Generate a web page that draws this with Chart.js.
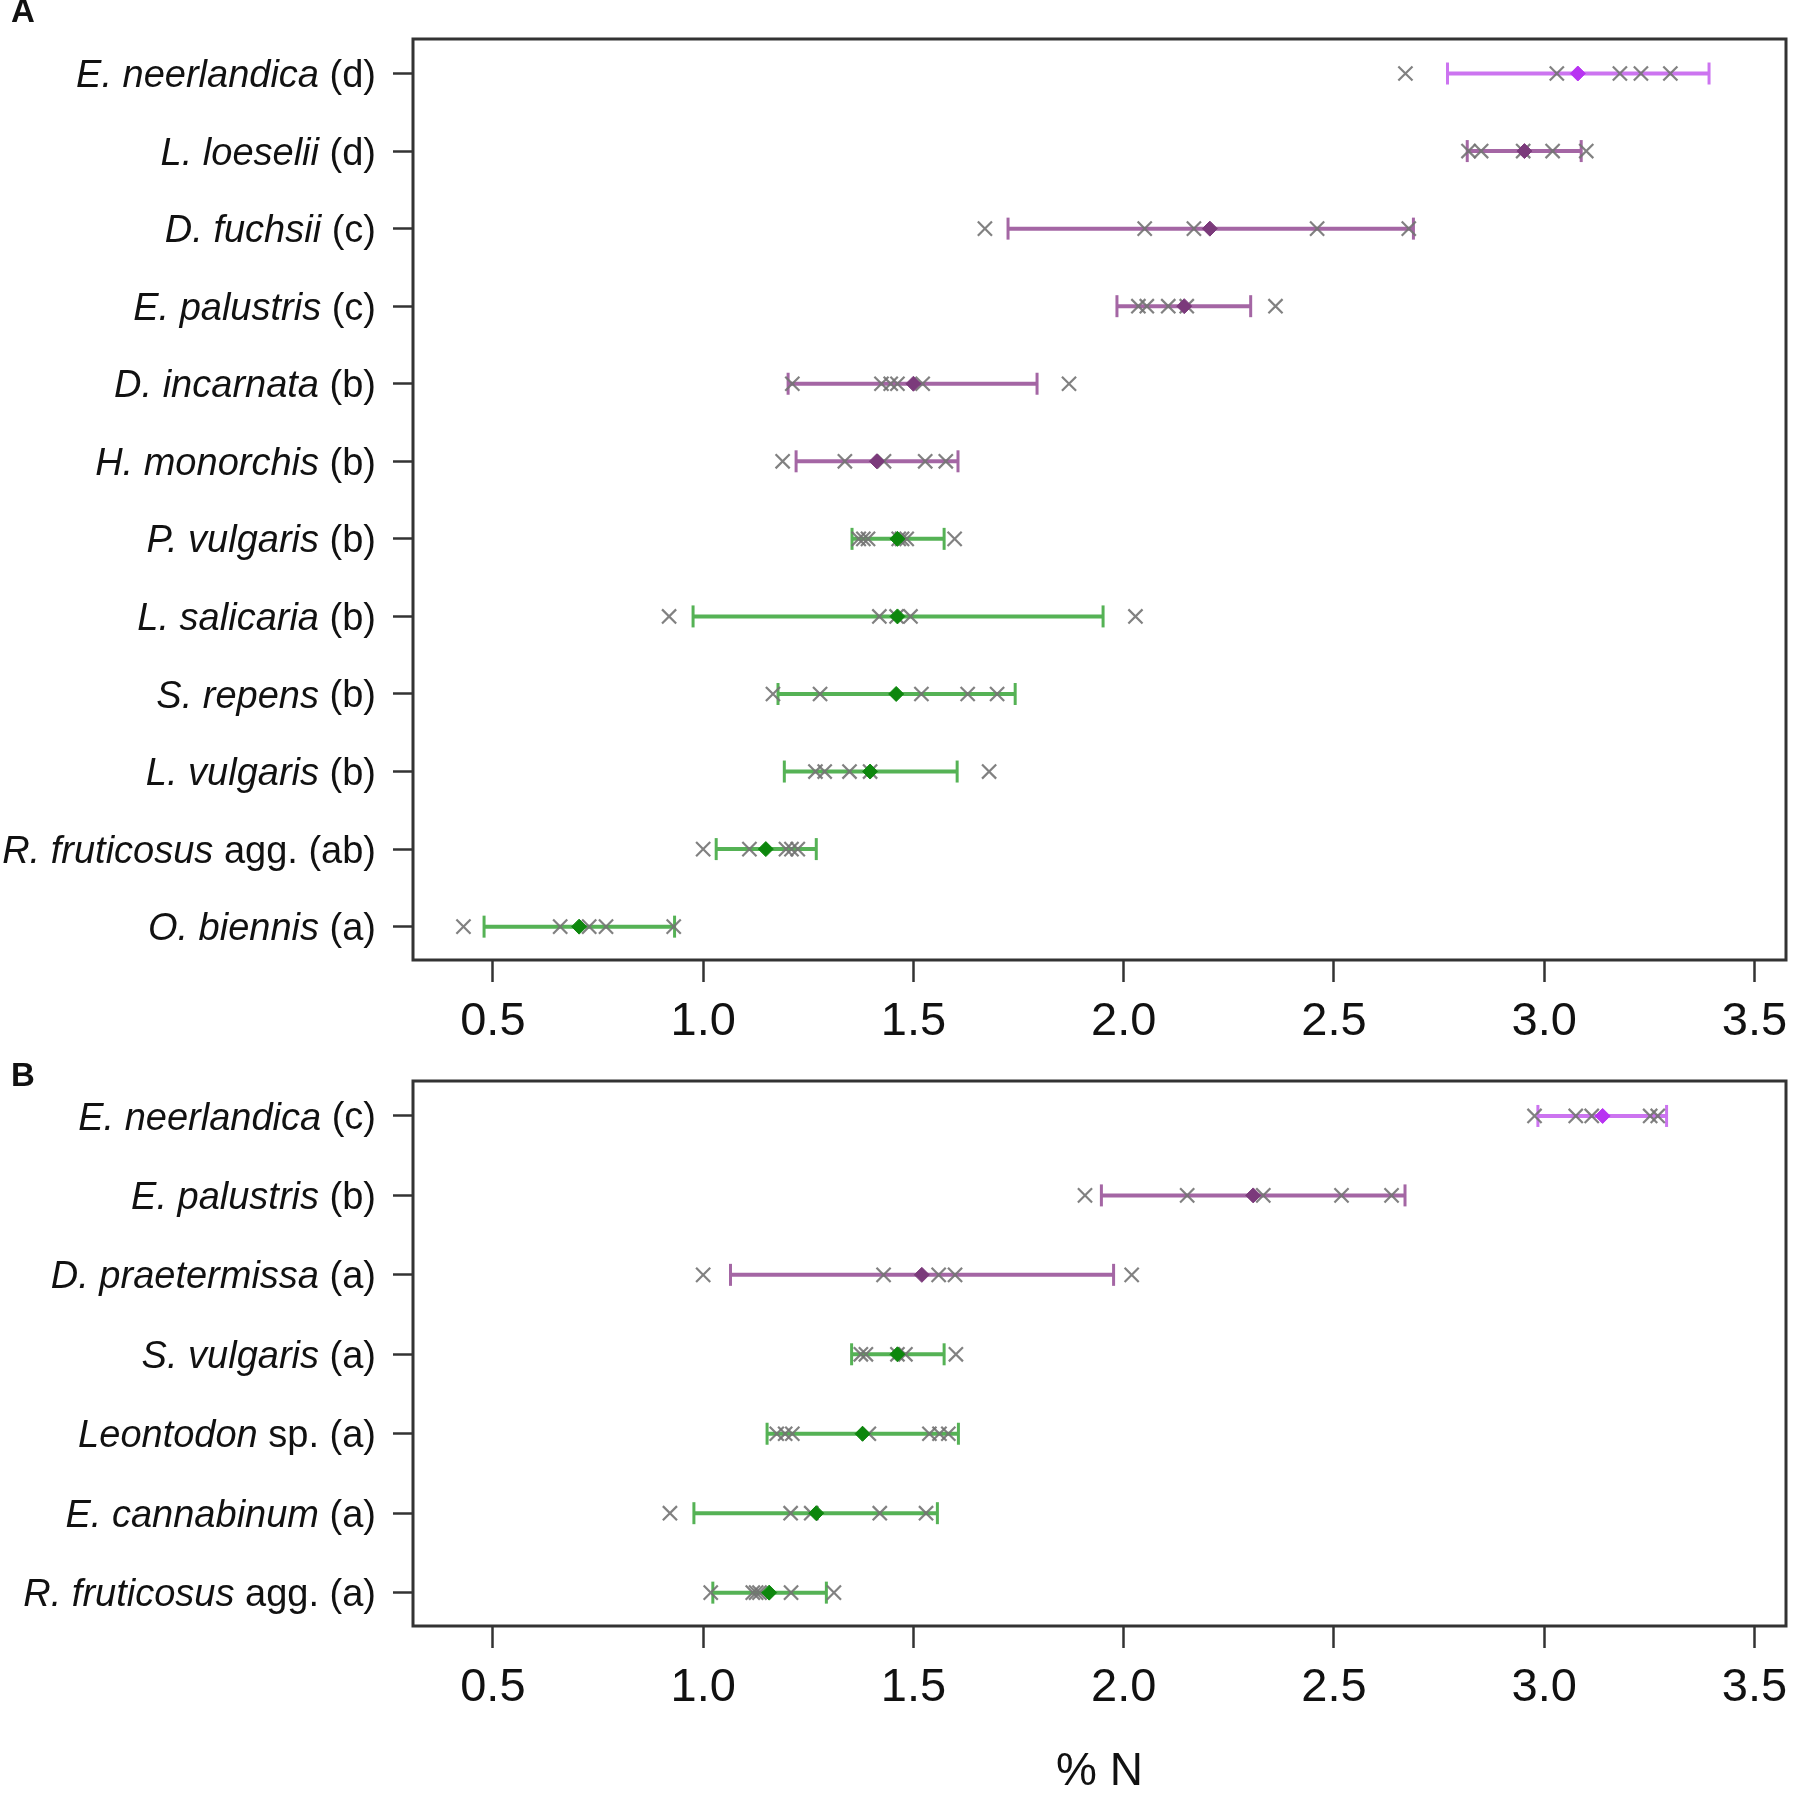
<!DOCTYPE html>
<html>
<head>
<meta charset="utf-8">
<script src="https://cdn.jsdelivr.net/npm/chart.js@4.4.1/dist/chart.umd.min.js"></script>
<style>
  html, body { margin: 0; padding: 0; background: #fff; }
  canvas { display: block; position: absolute; left: 0; }
  #chartA { top: 0; }
  #chartB { top: 1050px; }
</style>
</head>
<body>
<canvas id="chartA" width="1800" height="1050"></canvas>
<canvas id="chartB" width="1800" height="745"></canvas>
<script>
// ---- panel A (top to bottom) ----
const speciesA = ['E. neerlandica', 'L. loeselii', 'D. fuchsii', 'E. palustris', 'D. incarnata', 'H. monorchis',
  'P. vulgaris', 'L. salicaria', 'S. repens', 'L. vulgaris', 'R. fruticosus', 'O. biennis'];
const suffixA = [' (d)', ' (d)', ' (c)', ' (c)', ' (b)', ' (b)', ' (b)', ' (b)', ' (b)', ' (b)', ' agg. (ab)', ' (a)'];
const meanA = [3.08, 2.953, 2.205, 2.144, 1.50, 1.413, 1.462, 1.462, 1.459, 1.397, 1.149, 0.705];
const lowA  = [2.77, 2.817, 1.725, 1.984, 1.202, 1.221, 1.354, 0.976, 1.178, 1.193, 1.031, 0.479];
const highA = [3.392, 3.088, 2.689, 2.302, 1.794, 1.606, 1.573, 1.951, 1.742, 1.604, 1.269, 0.932];
const samplesA = [
  [2.67, 3.03, 3.18, 3.23, 3.30],
  [2.82, 2.85, 2.95, 3.02, 3.10],
  [1.67, 2.05, 2.167, 2.46, 2.678],
  [2.035, 2.055, 2.106, 2.15, 2.361],
  [1.212, 1.424, 1.446, 1.462, 1.522, 1.87],
  [1.189, 1.337, 1.43, 1.528, 1.577],
  [1.37, 1.381, 1.392, 1.465, 1.473, 1.484, 1.598],
  [0.919, 1.419, 1.46, 1.493, 2.028],
  [1.166, 1.278, 1.519, 1.629, 1.699],
  [1.267, 1.289, 1.348, 1.397, 1.68],
  [1.0, 1.11, 1.197, 1.21, 1.225],
  [0.43, 0.66, 0.729, 0.769, 0.93]
];
const groupA = ['neer', 'orchid', 'orchid', 'orchid', 'orchid', 'orchid',
  'other', 'other', 'other', 'other', 'other', 'other'];

// ---- panel B (top to bottom) ----
const speciesB = ['E. neerlandica', 'E. palustris', 'D. praetermissa', 'S. vulgaris', 'Leontodon', 'E. cannabinum', 'R. fruticosus'];
const suffixB = [' (c)', ' (b)', ' (a)', ' (a)', ' sp. (a)', ' (a)', ' agg. (a)'];
const meanB = [3.139, 2.308, 1.52, 1.462, 1.379, 1.269, 1.157];
const lowB  = [2.985, 1.947, 1.065, 1.353, 1.152, 0.978, 1.023];
const highB = [3.291, 2.669, 1.976, 1.573, 1.607, 1.557, 1.293];
const samplesB = [
  [2.977, 3.075, 3.113, 3.252, 3.27],
  [1.908, 2.151, 2.332, 2.518, 2.637],
  [1.0, 1.429, 1.56, 1.599, 2.019],
  [1.375, 1.387, 1.462, 1.481, 1.601],
  [1.175, 1.195, 1.212, 1.394, 1.538, 1.562, 1.583],
  [0.921, 1.208, 1.257, 1.42, 1.53],
  [1.018, 1.118, 1.126, 1.134, 1.209, 1.311]
];
const groupB = ['neer', 'orchid', 'orchid', 'other', 'other', 'other', 'other'];

const xTicks = [0.5, 1.0, 1.5, 2.0, 2.5, 3.0, 3.5];

const FONT = '"Liberation Sans", Arial, Helvetica, sans-serif';
const lineColors = { neer: '#cc74f0', orchid: '#a466a4', other: '#55b255' };
const meanColors = { neer: '#b833f2', orchid: '#7b3a7b', other: '#0d870d' };

function decor(species, suffix, letter, letterY) {
  return {
    id: 'decor',
    afterDraw(chart) {
      const { ctx, chartArea: a } = chart;
      const ys = chart.scales.y;
      ctx.save();
      ctx.strokeStyle = '#333';
      ctx.lineWidth = 3;
      ctx.strokeRect(a.left, a.top, a.right - a.left, a.bottom - a.top);
      ctx.fillStyle = '#111';
      ctx.textBaseline = 'middle';
      ctx.textAlign = 'right';
      species.forEach((name, i) => {
        const y = ys.getPixelForValue(i + 1) + 3;
        ctx.font = '38px ' + FONT;
        const w = ctx.measureText(suffix[i]).width;
        ctx.fillText(suffix[i], 376, y);
        ctx.font = 'italic 38px ' + FONT;
        ctx.fillText(name, 376 - w, y);
      });
      ctx.font = 'bold 33px ' + FONT;
      ctx.textAlign = 'left';
      ctx.textBaseline = 'alphabetic';
      ctx.fillText(letter, 11, letterY);
      ctx.restore();
    }
  };
}

function makeChart(id, species, suffix, means, lows, highs, samples, groups, opt) {
  const rows = species.map((s, i) => i + 1);
  const datasets = [];
  datasets.push({
    data: means.map((m, i) => ({ x: m, y: rows[i] })),
    pointStyle: 'rectRot',
    pointRadius: 7.5,
    backgroundColor: groups.map(g => meanColors[g]),
    borderColor: groups.map(g => meanColors[g]),
    borderWidth: 1,
    order: 0
  });
  const pts = [];
  samples.forEach((arr, i) => arr.forEach(v => pts.push({ x: v, y: rows[i] })));
  datasets.push({
    data: pts,
    pointStyle: 'crossRot',
    pointRadius: 10,
    borderColor: 'rgba(115,115,115,0.9)',
    borderWidth: 2.2,
    order: 1
  });
  lows.forEach((lo, i) => {
    const c = lineColors[groups[i]];
    datasets.push({
      data: [{ x: lo, y: rows[i] }, { x: highs[i], y: rows[i] }],
      showLine: true,
      borderColor: c,
      borderWidth: 4,
      pointStyle: 'line',
      pointRotation: 90,
      pointRadius: 11,
      pointBorderWidth: 3,
      pointBorderColor: c,
      order: 2
    });
  });

  return new Chart(document.getElementById(id).getContext('2d'), {
    type: 'scatter',
    data: { datasets },
    plugins: [decor(species, suffix, opt.letter, opt.letterY)],
    options: {
      responsive: false,
      animation: false,
      devicePixelRatio: 1,
      layout: { padding: { left: 393, right: 9, top: opt.top, bottom: 0 } },
      plugins: { legend: { display: false }, tooltip: { enabled: false } },
      scales: {
        x: {
          type: 'linear',
          min: 0.31,
          max: 3.575,
          afterBuildTicks: s => { s.ticks = xTicks.map(v => ({ value: v })); },
          afterFit: s => { s.height = opt.xHeight; },
          grid: { drawOnChartArea: false, drawTicks: true, tickLength: 22, tickColor: '#333', tickWidth: 2.5 },
          border: { display: false },
          ticks: {
            font: { family: FONT, size: 47 },
            color: '#111',
            padding: 12,
            autoSkip: false,
            maxRotation: 0,
            callback: v => Number(v).toFixed(1)
          },
          title: opt.title
            ? { display: true, text: opt.title, color: '#111', font: { family: FONT, size: 46, lineHeight: 1.0 }, padding: { top: 0, bottom: 0 } }
            : { display: false }
        },
        y: {
          type: 'linear',
          reverse: true,
          min: opt.ymin,
          max: opt.ymax,
          afterBuildTicks: s => { s.ticks = rows.map(v => ({ value: v })); },
          afterFit: s => { s.width = 20; },
          grid: { drawOnChartArea: false, drawTicks: true, tickLength: 20, tickColor: '#333', tickWidth: 2.5 },
          border: { display: false },
          ticks: { display: false }
        }
      }
    }
  });
}

makeChart('chartA', speciesA, suffixA, meanA, lowA, highA, samplesA, groupA,
  { top: 39, xHeight: 90, ymin: 0.555, ymax: 12.43, letter: 'A', letterY: 22 });
makeChart('chartB', speciesB, suffixB, meanB, lowB, highB, samplesB, groupB,
  { top: 31, xHeight: 169, ymin: 0.56, ymax: 7.42, letter: 'B', letterY: 36, title: '% N' });
</script>
</body>
</html>
